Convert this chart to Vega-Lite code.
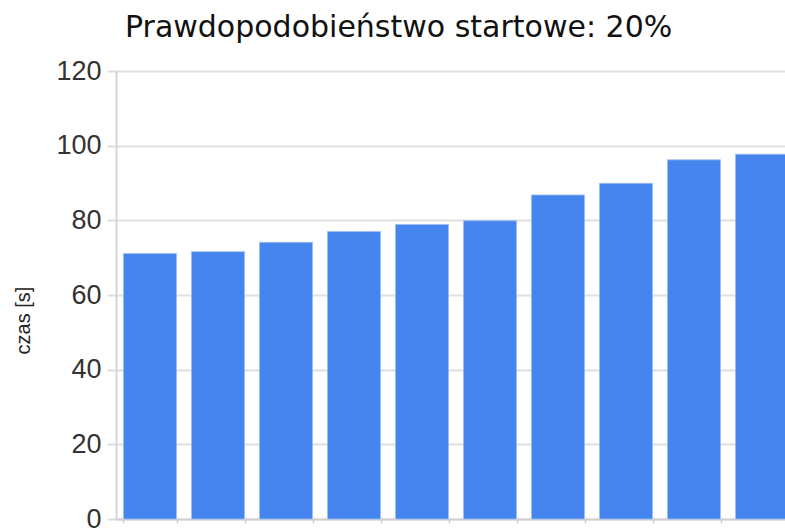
{
  "$schema": "https://vega.github.io/schema/vega-lite/v6.json",
  "autosize": {"type": "none"},
  "padding": {"left": 116, "top": 71, "right": 0, "bottom": 13},
  "width": 669,
  "height": 448,
  "background": "white",
  "title": {
    "text": "Prawdopodobieństwo startowe: 20%",
    "anchor": "start",
    "frame": "group",
    "dx": 9,
    "dy": 44,
    "baseline": "alphabetic",
    "offset": 34,
    "font": "DejaVu Sans",
    "fontSize": 30,
    "fontWeight": "normal",
    "color": "#111111"
  },
  "data": {
    "values": [
      {"k": 1, "czas": 71.1},
      {"k": 2, "czas": 71.6},
      {"k": 3, "czas": 74.1},
      {"k": 4, "czas": 77.0},
      {"k": 5, "czas": 78.9},
      {"k": 6, "czas": 79.9},
      {"k": 7, "czas": 86.8},
      {"k": 8, "czas": 89.9},
      {"k": 9, "czas": 96.2},
      {"k": 10, "czas": 97.7}
    ]
  },
  "mark": {"type": "bar", "color": "#4684ee", "stroke": "#9dbcf5", "strokeWidth": 0.8},
  "encoding": {
    "x": {
      "field": "k",
      "type": "ordinal",
      "sort": null,
      "scale": {"range": [0, 680], "paddingInner": 0.22, "paddingOuter": 0.11},
      "axis": {
        "title": null,
        "labels": false,
        "tickBand": "extent",
        "ticks": true,
        "tickSize": 4,
        "tickColor": "#cccccc",
        "tickWidth": 1.5,
        "domainColor": "#d0d0d0",
        "domainWidth": 2,
        "grid": false
      }
    },
    "y": {
      "field": "czas",
      "type": "quantitative",
      "scale": {"domain": [0, 120], "nice": false},
      "axis": {
        "title": "czas [s]",
        "titleFont": "Liberation Sans",
        "titleFontSize": 20,
        "titleFontWeight": "normal",
        "titleColor": "#222222",
        "titleX": -93,
        "titleY": 249,
        "titleAlign": "center",
        "titleBaseline": "middle",
        "values": [0, 20, 40, 60, 80, 100, 120],
        "labelFont": "Liberation Sans",
        "labelFontSize": 27,
        "labelColor": "#333333",
        "labelPadding": 6,
        "tickSize": 9,
        "tickColor": "#dddddd",
        "tickWidth": 2,
        "gridColor": "#e0e0e0",
        "gridWidth": 2,
        "domainColor": "#d6d6d6",
        "domainWidth": 2
      }
    }
  },
  "config": {"view": {"stroke": null}}
}
